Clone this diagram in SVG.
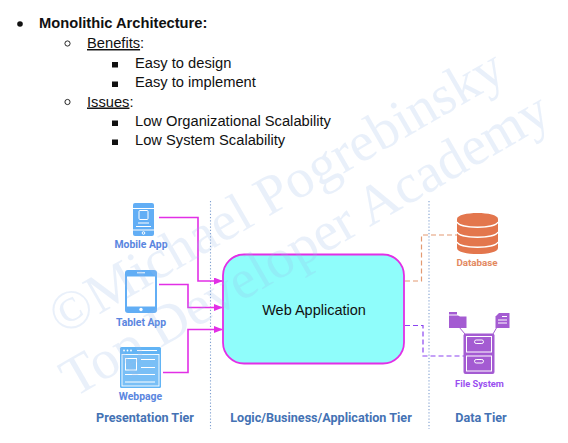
<svg xmlns="http://www.w3.org/2000/svg" width="568" height="443" viewBox="0 0 568 443">
<style>
.t{font-family:"Liberation Sans",Arial,sans-serif;font-size:14.7px;fill:#111}
.lab{font-family:Roboto,"Liberation Sans",sans-serif;font-weight:700;font-size:10.4px;text-anchor:middle}
.tier{font-family:Roboto,"Liberation Sans",sans-serif;font-weight:700;font-size:12.6px;fill:#4472b4;text-anchor:middle}
.wm{font-family:"Liberation Serif",serif;font-size:55.5px;fill:#9dbce6;fill-opacity:.22}
.sep{stroke:#7f9fd0;stroke-width:1.1;stroke-dasharray:1.2 2;fill:none}
.m{fill:none;stroke:#e22fe6;stroke-width:1.6}
.b{fill:#62aef5}
.w{fill:none;stroke:#fff;stroke-width:1}
.f{fill:#a45bd2}
</style>
<defs>
<marker id="a" viewBox="0 0 10 10" refX="9" refY="5" markerWidth="9" markerHeight="7" markerUnits="userSpaceOnUse" orient="auto" preserveAspectRatio="none"><path d="M0 0L10 5L0 10Z" fill="#e22fe6"/></marker>
</defs>
<rect width="568" height="443" fill="#fff"/>
<g id="outline">
<circle cx="20" cy="24" r="2.8" fill="#111"/>
<text class="t" x="39" y="28" style="font-weight:700">Monolithic Architecture:</text>
<circle cx="67.500" cy="43.500" r="2.600" fill="none" stroke="#111" stroke-width="0.900"/>
<text class="t" x="87" y="48"><tspan text-decoration="underline">Benefits</tspan>:</text>
<rect x="112" y="62" width="6" height="5.500" fill="#111"/>
<text class="t" x="135" y="67.500">Easy to design</text>
<rect x="112" y="81.500" width="6" height="5.500" fill="#111"/>
<text class="t" x="135" y="87">Easy to implement</text>
<circle cx="67.500" cy="102" r="2.600" fill="none" stroke="#111" stroke-width="0.900"/>
<text class="t" x="87" y="106.500"><tspan text-decoration="underline">Issues</tspan>:</text>
<rect x="112" y="120.500" width="6" height="5.500" fill="#111"/>
<text class="t" x="135" y="126">Low Organizational Scalability</text>
<rect x="112" y="139.500" width="6" height="5.500" fill="#111"/>
<text class="t" x="135" y="145">Low System Scalability</text>
</g>
<g id="tier-separators">
<path class="sep" d="M210.500 201V429"/>
<path class="sep" d="M429 201V429"/>
</g>
<g id="web-application">
<rect x="223" y="254.500" width="181" height="109" rx="21" fill="#8ffdfb" stroke="#e22fe6" stroke-width="1.800"/>
<text x="314" y="315" text-anchor="middle" font-family="Liberation Sans,Arial,sans-serif" font-size="14.500" fill="#111">Web Application</text>
</g>
<g id="connectors">
<path class="m" marker-end="url(#a)" d="M159 217.500H198V281H222"/>
<path class="m" marker-end="url(#a)" d="M159 284.500H188V307.500H222"/>
<path class="m" marker-end="url(#a)" d="M163 372.500H188V329.500H222"/>
<path fill="none" stroke="#e39a72" stroke-width="1.200" stroke-dasharray="5 3" d="M405 281H421.500V235H457"/>
<path fill="none" stroke="#8b45f0" stroke-width="1.200" stroke-dasharray="5 3" d="M405 325.500H423V356H466"/>
</g>
<g id="mobile-app">
<rect x="133" y="203" width="21" height="33" rx="2" class="b"/>
<path class="w" d="M133 208.500H154M133 230H154M138 223H149M136 226.500H151"/>
<rect x="139" y="210.500" width="9" height="9" rx="1" class="w"/>
<circle cx="143.500" cy="233" r="1.300" class="w"/>
<text class="lab" x="141" y="248" fill="#5a86e0">Mobile App</text>
</g>
<g id="tablet-app">
<rect x="125" y="270" width="32" height="43" rx="3" class="b"/>
<rect x="127" y="276.500" width="28" height="30" fill="#fff"/>
<path d="M137 272.800H145" stroke="#fff" stroke-width="1"/>
<circle cx="141" cy="309.500" r="1.700" fill="#fff"/>
<text class="lab" x="141" y="326" fill="#5a86e0">Tablet App</text>
</g>
<g id="webpage">
<rect x="120" y="347" width="41" height="41" rx="1.500" fill="#62b4f5"/>
<rect x="122" y="354.500" width="37" height="31.500" fill="#fff" fill-opacity="0.150" stroke="#fff" stroke-width="0.900"/>
<path class="w" d="M137 350.500H157M141 359.500H155M141 367.500H155M125 374.500H155M125 382H155"/>
<circle cx="124" cy="350.500" r="0.900" fill="#fff"/><circle cx="127.500" cy="350.500" r="0.900" fill="#fff"/><circle cx="131" cy="350.500" r="0.900" fill="#fff"/>
<rect x="125.500" y="358.500" width="11" height="11.500" class="w"/>
<text class="lab" x="140.500" y="400" fill="#5a86e0">Webpage</text>
</g>
<g id="database">
<path d="M457 219C457 211 498 211 498 219V248C498 256 457 256 457 248Z" fill="#e3764d"/>
<path class="w" style="stroke-width:1.300" d="M457 222C460 229 495 229 498 222M457 232C460 239 495 239 498 232M457 242C460 249 495 249 498 242"/>
<text class="lab" style="font-size:9.800px" x="477" y="266" fill="#e3895f">Database</text>
</g>
<g id="file-system">
<path d="M459 327L465 334M497 327L493 334" stroke="#a45fd0" stroke-width="1" fill="none"/>
<rect x="449" y="312" width="8" height="2.500" class="f"/>
<path class="f" d="M449 315.500H458L460 316.500H466.500V328H449Z"/>
<path class="f" d="M499 313L495.500 316.500V328H509.500V313Z"/>
<path class="w" d="M498 320H507M498 323H507M502 316.500H507"/>
<rect x="463.500" y="333.500" width="31" height="40.500" rx="2" class="f"/>
<rect x="466.500" y="336.500" width="25" height="15.500" class="w"/>
<rect x="466.500" y="356" width="25" height="15" class="w"/>
<rect x="474.500" y="340" width="9" height="3.500" rx="1.700" class="w"/>
<rect x="474.500" y="359.500" width="9" height="3.500" rx="1.700" class="w"/>
<text class="lab" style="font-size:9.300px" x="479.500" y="387" fill="#9a4ff0">File System</text>
</g>
<g id="tier-labels">
<text class="tier" x="145" y="422">Presentation Tier</text>
<text class="tier" x="321" y="422">Logic/Business/Application Tier</text>
<text class="tier" x="481" y="422">Data Tier</text>
</g>
<g id="watermark">
<text class="wm" transform="translate(62 336) rotate(-30)">©Michael Pogrebinsky</text>
<text class="wm" transform="translate(74 398) rotate(-30)">Top Developer Academy</text>
</g>
</svg>
